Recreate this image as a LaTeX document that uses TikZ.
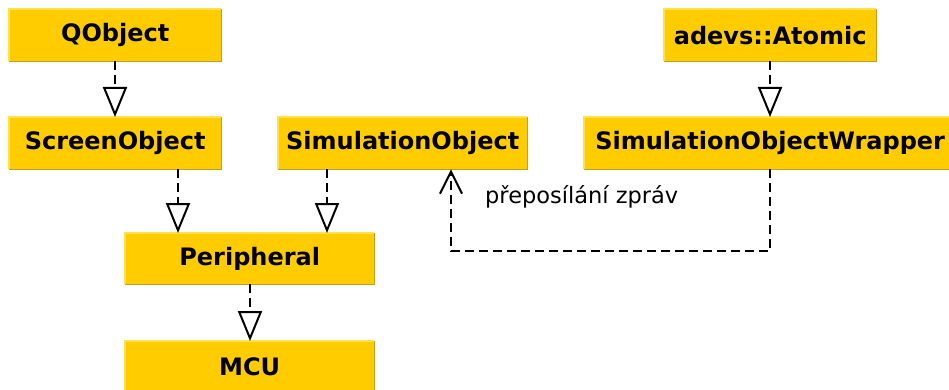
\documentclass[tikz,border=0pt]{standalone}
\usepackage{fontspec}
\setmainfont{DejaVu Sans}
\usetikzlibrary{arrows.meta}
\definecolor{yel}{HTML}{FFCC00}
\definecolor{yellight}{HTML}{FFE24A}
\definecolor{yeldark}{HTML}{BFA020}
\tikzset{
  box/.style={fill=yel, draw=none, inner sep=0pt, anchor=north west,
    font=\fontsize{24}{28}\selectfont\bfseries},
  darkedge/.style={draw=yeldark, line width=1.6pt},
  lightedge/.style={draw=yellight, line width=1.6pt},
  inherit/.style={draw=black, line width=2pt, dash pattern=on 9pt off 5pt,
    -{Triangle[open, length=30pt, width=24pt, fill=white]}},
  msg/.style={draw=black, line width=2pt, dash pattern=on 9pt off 5pt,
    -{Straight Barb[length=22pt, width=22pt]}},
  lbl/.style={font=\fontsize{22.5}{26}\selectfont, inner sep=0pt, anchor=west}
}
\begin{document}
\begin{tikzpicture}[x=1pt, y=-1pt]
\useasboundingbox (0,0) rectangle (949,390);
\node[box, minimum width=212pt, minimum height=52pt] (qo) at (9,9) {QObject};
\node[box, minimum width=212pt, minimum height=52pt] (so) at (9,117) {ScreenObject};
\node[box, minimum width=249pt, minimum height=52pt] (sim) at (278,117) {SimulationObject};
\node[box, minimum width=212pt, minimum height=52pt] (at) at (664,9) {adevs::Atomic};
\node[box, minimum width=372pt, minimum height=52pt] (wr) at (584,117) {SimulationObjectWrapper};
\node[box, minimum width=249pt, minimum height=51pt] (per) at (125,233) {Peripheral};
\node[box, minimum width=249pt, minimum height=51pt] (mcu) at (125,341) {MCU};
\foreach \n in {qo,so,sim,at,wr,per,mcu}{
  \draw[lightedge] (\n.south west) -- (\n.north west) -- (\n.north east);
  \draw[darkedge] (\n.north east) -- (\n.south east) -- (\n.south west);
}
\coordinate (x1) at (115,0);
\coordinate (x2) at (178,0);
\coordinate (x3) at (327,0);
\coordinate (x4) at (250,0);
\coordinate (x5) at (770,0);
\draw[inherit] (qo.south -| x1) -- (so.north -| x1);
\draw[inherit] (so.south -| x2) -- (per.north -| x2);
\draw[inherit] (sim.south -| x3) -- (per.north -| x3);
\draw[inherit] (per.south -| x4) -- (mcu.north -| x4);
\draw[inherit] (at.south -| x5) -- (wr.north -| x5);
\coordinate (c1) at (770,251);
\coordinate (c2) at (451,251);
\draw[msg] (wr.south -| c1) -- (c1) -- (c2) -- (sim.south -| c2);
\node[lbl] (m) at (485,197) {přeposílání zpráv};
\end{tikzpicture}
\end{document}
